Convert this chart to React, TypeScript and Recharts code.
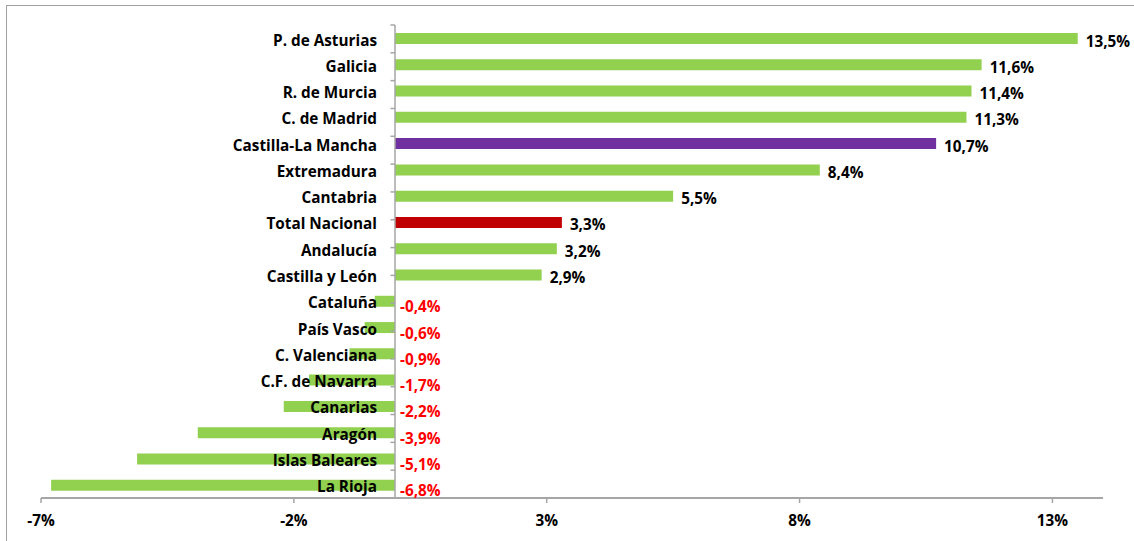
import React from "react";
import { BarChart, Bar, XAxis, YAxis, Cell, LabelList, ReferenceLine } from "recharts";

const categories = [
  "P. de Asturias",
  "Galicia",
  "R. de Murcia",
  "C. de Madrid",
  "Castilla-La Mancha",
  "Extremadura",
  "Cantabria",
  "Total Nacional",
  "Andalucía",
  "Castilla y León",
  "Cataluña",
  "País Vasco",
  "C. Valenciana",
  "C.F. de Navarra",
  "Canarias",
  "Aragón",
  "Islas Baleares",
  "La Rioja",
];

const values = [13.5, 11.6, 11.4, 11.3, 10.7, 8.4, 5.5, 3.3, 3.2, 2.9, -0.4, -0.6, -0.9, -1.7, -2.2, -3.9, -5.1, -6.8];

const xTicks = [-7, -2, 3, 8, 13];
const xDomain = [-7, 14];

const highlight: Record<string, string> = {
  "Castilla-La Mancha": "#7030A0",
  "Total Nacional": "#C00000",
};
const defaultColor = "#92D050";

const data = categories.map((name, i) => ({ name, value: values[i] }));
const valueByName: Record<string, number> = {};
data.forEach((d) => (valueByName[d.name] = d.value));
const boundaries = categories.map((_, i) => i).concat([categories.length]);

const FONT = "'Open Sans', sans-serif";
const AXIS = "#A6A6A6";

const fmt = (v: number) => v.toFixed(1).replace(".", ",") + "%";

function zeroAndEnd(x: number, width: number, v: number) {
  if (width < 0) return { zero: x, end: x + width };
  if (v < 0) return { zero: x + width, end: x };
  return { zero: x, end: x + width };
}

const NameLabel = (props: any) => {
  const { x, y, width, height, value } = props;
  const v = valueByName[value];
  const { zero } = zeroAndEnd(Number(x), Number(width), v);
  const cy = Number(y) + Number(height) / 2;
  return (
    <text x={zero - 18} y={cy + 1} textAnchor="end" dominantBaseline="central" fontFamily={FONT} fontWeight={700} fontSize={15.3} fill="#000">
      {value}
    </text>
  );
};

const ValueLabel = (props: any) => {
  const { x, y, width, height, value } = props;
  const v = Number(value);
  const { zero, end } = zeroAndEnd(Number(x), Number(width), v);
  const cy = Number(y) + Number(height) / 2;
  if (v >= 0) {
    return (
      <text x={end + 8} y={cy + 2} textAnchor="start" dominantBaseline="central" fontFamily={FONT} fontWeight={700} fontSize={15.3} fill="#000">
        {fmt(v)}
      </text>
    );
  }
  return (
    <text x={zero + 5} y={cy + 5} textAnchor="start" dominantBaseline="central" fontFamily={FONT} fontWeight={700} fontSize={15.3} fill="#FF0000">
      {fmt(v)}
    </text>
  );
};

export default function App() {
  return (
    <div style={{ position: "absolute", left: 0, top: 0, width: 1134, height: 541, background: "#fff", overflow: "hidden" }}>
      <div
        style={{
          position: "absolute",
          left: 6,
          top: 5,
          width: 1134,
          height: 541,
          borderLeft: "1.5px solid #A0A0A0",
          borderTop: "1.5px solid #A0A0A0",
        }}
      />
      <div style={{ position: "absolute", left: 0, top: 0 }}>
        <BarChart
          width={1134}
          height={541}
          data={data}
          layout="vertical"
          margin={{ top: 25, right: 31, bottom: 13, left: 41 }}
          barSize={11}
        >
          <XAxis
            type="number"
            domain={xDomain}
            ticks={xTicks}
            allowDataOverflow
            height={30}
            tickFormatter={(v: number) => `${v}%`}
            axisLine={{ stroke: AXIS, strokeWidth: 2 }}
            tickLine={{ stroke: AXIS, strokeWidth: 1.5 }}
            tickSize={5}
            tickMargin={12}
            tick={{ fontFamily: FONT, fontWeight: 700, fontSize: 15.3, fill: "#000" }}
          />
          <YAxis type="category" dataKey="name" hide />
          <YAxis yAxisId="grid" type="number" domain={[0, categories.length]} hide />
          <ReferenceLine x={0} stroke={AXIS} strokeWidth={1.5} />
          {boundaries.map((b) => (
            <ReferenceLine
              key={b}
              yAxisId="grid"
              segment={[
                { x: -0.09, y: b },
                { x: 0, y: b },
              ]}
              stroke={AXIS}
              strokeWidth={1.5}
            />
          ))}
          <Bar dataKey="value" isAnimationActive={false}>
            {data.map((d) => (
              <Cell key={d.name} fill={highlight[d.name] || defaultColor} />
            ))}
            <LabelList dataKey="name" content={NameLabel} />
            <LabelList dataKey="value" content={ValueLabel} />
          </Bar>
        </BarChart>
      </div>
    </div>
  );
}
